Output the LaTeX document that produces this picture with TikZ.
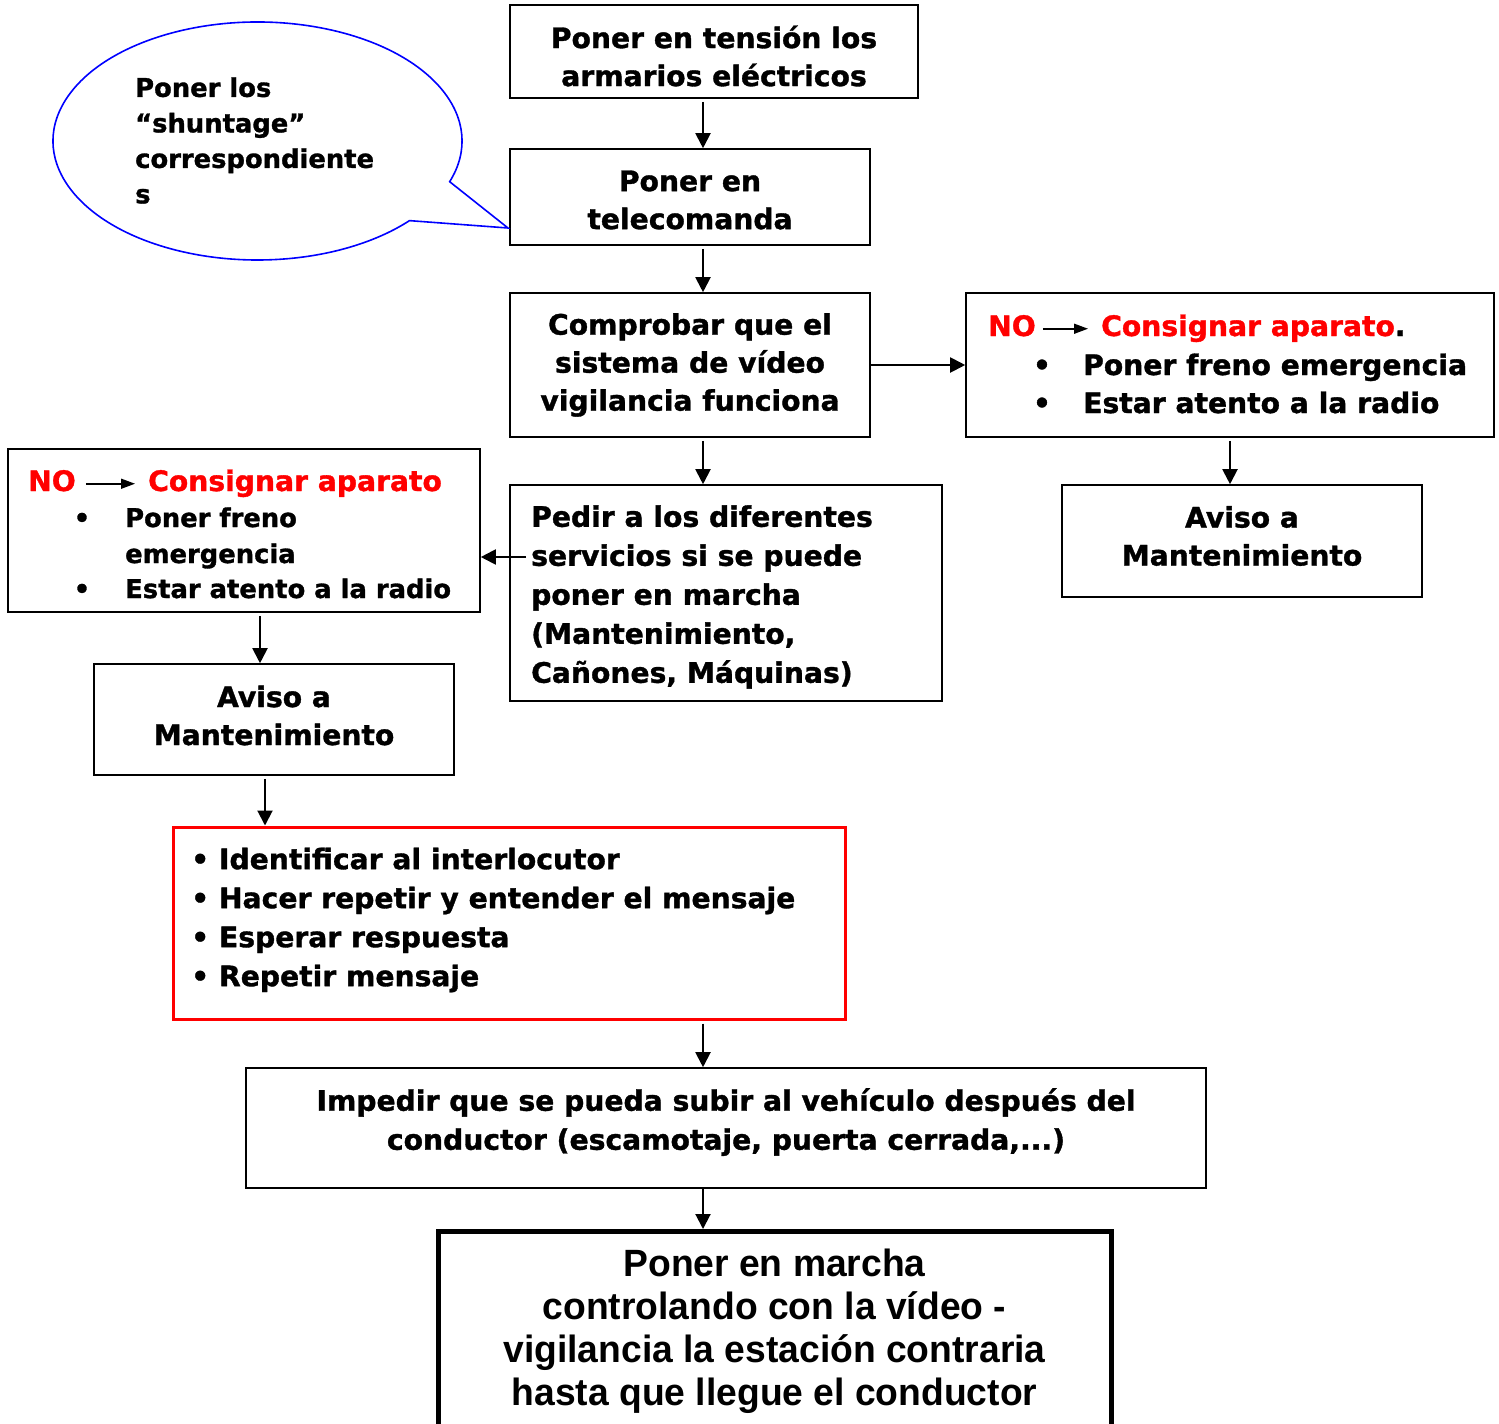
\documentclass[tikz,border=0pt]{standalone}
\usepackage{fontspec}
\setmainfont{DejaVu Sans}[BoldFeatures={FakeBold=1.2}]
\newfontfamily\arialb{Liberation Sans}[BoldFeatures={FakeStretch=0.98}]
\usetikzlibrary{arrows.meta}
\definecolor{pureRed}{RGB}{255,0,0}
\definecolor{pureBlue}{RGB}{0,0,255}
\newcommand{\fsA}{\fontsize{28.2}{38}\selectfont\bfseries}
\newcommand{\fsB}{\fontsize{28.2}{39}\selectfont\bfseries}
\newcommand{\fsC}{\fontsize{25.8}{35.5}\selectfont\bfseries}
\newcommand{\fsD}{\fontsize{25.8}{36}\selectfont\bfseries}
\newcommand{\fsE}{\arialb\fontsize{38}{43}\selectfont\bfseries}
\begin{document}
\begin{tikzpicture}[x=1pt,y=-1pt,
  box/.style={draw=black,line width=1.6pt,inner sep=0pt},
  lbl/.style={inner sep=0pt,align=center,font=\fsA},
  arr/.style={line width=2pt,-{Triangle[length=15pt,width=15pt]}},
  small arr/.style={line width=1.6pt,-{Triangle[length=14pt,width=10pt]}},
  txt/.style={inner sep=0pt,anchor=base west},
  bul/.style={inner sep=0pt,anchor=base}]
\useasboundingbox (0,0) rectangle (1499,1424);
\fill[white] (0,0) rectangle (1499,1424);
% boxes
\node[box,minimum width=408,minimum height=93] (b1) at (714,51.5) {};
\node[lbl] (t1) at (714,56) {Poner en tensión los\\armarios eléctricos};
\node[box,minimum width=360,minimum height=96] (b2) at (690,197) {};
\node[lbl] (t2) at (690,200) {Poner en\\telecomanda};
\node[box,minimum width=360,minimum height=144] (b3) at (690,365) {};
\node[lbl] (t3) at (690,365) {Comprobar que el\\sistema de vídeo\\vigilancia funciona};
\node[box,minimum width=528,minimum height=144] (rno) at (1230,365) {};
\node[box,minimum width=360,minimum height=112] (raviso) at (1242,541) {};
\node[lbl] (t4) at (1242,536) {Aviso a\\Mantenimiento};
\node[box,minimum width=432,minimum height=216] (b4) at (726,593) {};
\node[lbl,anchor=west,align=left,font=\fsB] (t5) at (531,597) {Pedir a los diferentes\\servicios si se puede\\poner en marcha\\(Mantenimiento,\\Cañones, Máquinas)};
\node[box,minimum width=472,minimum height=163] (lno) at (244,530.5) {};
\node[box,minimum width=360,minimum height=111] (laviso) at (274,719.5) {};
\node[lbl] (t6) at (274,715.5) {Aviso a\\Mantenimiento};
\node[box,draw=pureRed,line width=3pt,minimum width=672,minimum height=192] (red) at (509,923) {};
\node[lbl,anchor=west,align=left,font=\fsB] (t7) at (191,920) {• Identificar al interlocutor\\• Hacer repetir y entender el mensaje\\• Esperar respuesta\\• Repetir mensaje};
\node[box,minimum width=960,minimum height=120] (b5) at (726,1128) {};
\node[lbl,font=\fsB] (t8) at (726,1122) {Impedir que se pueda subir al vehículo después del\\conductor (escamotaje, puerta cerrada,...)};
\node[box,line width=5pt,anchor=north,minimum width=673,minimum height=240] (final) at (774.5,1229) {};
\node[lbl,anchor=north,font=\fsE] (t9) at (774.5,1249) {Poner en marcha\\controlando con la vídeo -\\vigilancia la estación contraria\\hasta que llegue el conductor};
% right NO box content
\node[txt,text=pureRed,font=\fsA] (rNO) at (988,336) {NO};
\node[txt,text=pureRed,font=\fsA] (rCons) at (1101,336) {Consignar aparato\textcolor{black}{.}};
\draw[small arr,shorten <=7pt,shorten >=13pt] ([yshift=-3pt]rNO.east) -- ([yshift=-3pt]rCons.west |- rNO.east);
\node[bul,font=\fsA] (rb1) at (1042,375) {•};
\node[txt,font=\fsA] (rt1) at (1083,375) {Poner freno emergencia};
\node[bul,font=\fsA] (rb2) at (1042,413) {•};
\node[txt,font=\fsA] (rt2) at (1083,413) {Estar atento a la radio};
% left NO box content
\node[txt,text=pureRed,font=\fsA] (lNO) at (28,491) {NO};
\node[txt,text=pureRed,font=\fsA] (lCons) at (148,491) {Consignar aparato};
\draw[small arr,shorten <=10pt,shorten >=13pt] ([yshift=-3pt]lNO.east) -- ([yshift=-3pt]lCons.west |- lNO.east);
\node[bul,font=\fsD] (lb1) at (82,527) {•};
\node[txt,font=\fsD] (lt1) at (125,527) {Poner freno};
\node[txt,font=\fsD] (lt2) at (125,563) {emergencia};
\node[bul,font=\fsD] (lb2) at (82,598) {•};
\node[txt,font=\fsD] (lt3) at (125,598) {Estar atento a la radio};
% callout
\draw[pureBlue,line width=1.6pt] (257.5,141) ++(20:204.5 and 119) arc[start angle=20,end angle=-318,x radius=204.5,y radius=119] -- (508,228) -- cycle;
\node[inner sep=0pt,anchor=west,align=left,font=\fsC] (callout) at (135,140.5) {Poner los\\“shuntage”\\correspondiente\\s};
% connectors
\draw[arr,shorten <=3pt] (b1.south -| 703,0) -- (b2.north -| 703,0);
\draw[arr,shorten <=3pt] (b2.south -| 703,0) -- (b3.north -| 703,0);
\draw[arr,shorten <=3pt] (b3.south -| 703,0) -- (b4.north -| 703,0);
\draw[arr] (b3.east) -- (rno.west);
\draw[arr,shorten <=3pt] (rno.south) -- (raviso.north -| rno.south);
\coordinate (pstart) at (526,557);
\draw[arr] (pstart) -- (lno.east |- pstart);
\draw[arr,shorten <=3pt] (lno.south -| 260,0) -- (laviso.north -| 260,0);
\draw[arr,shorten <=3pt] (laviso.south -| 265,0) -- (red.north -| 265,0);
\draw[arr,shorten <=3pt] (red.south -| 703,0) -- (b5.north -| 703,0);
\draw[arr] (b5.south -| 703,0) -- (final.north -| 703,0);
\end{tikzpicture}
\end{document}
